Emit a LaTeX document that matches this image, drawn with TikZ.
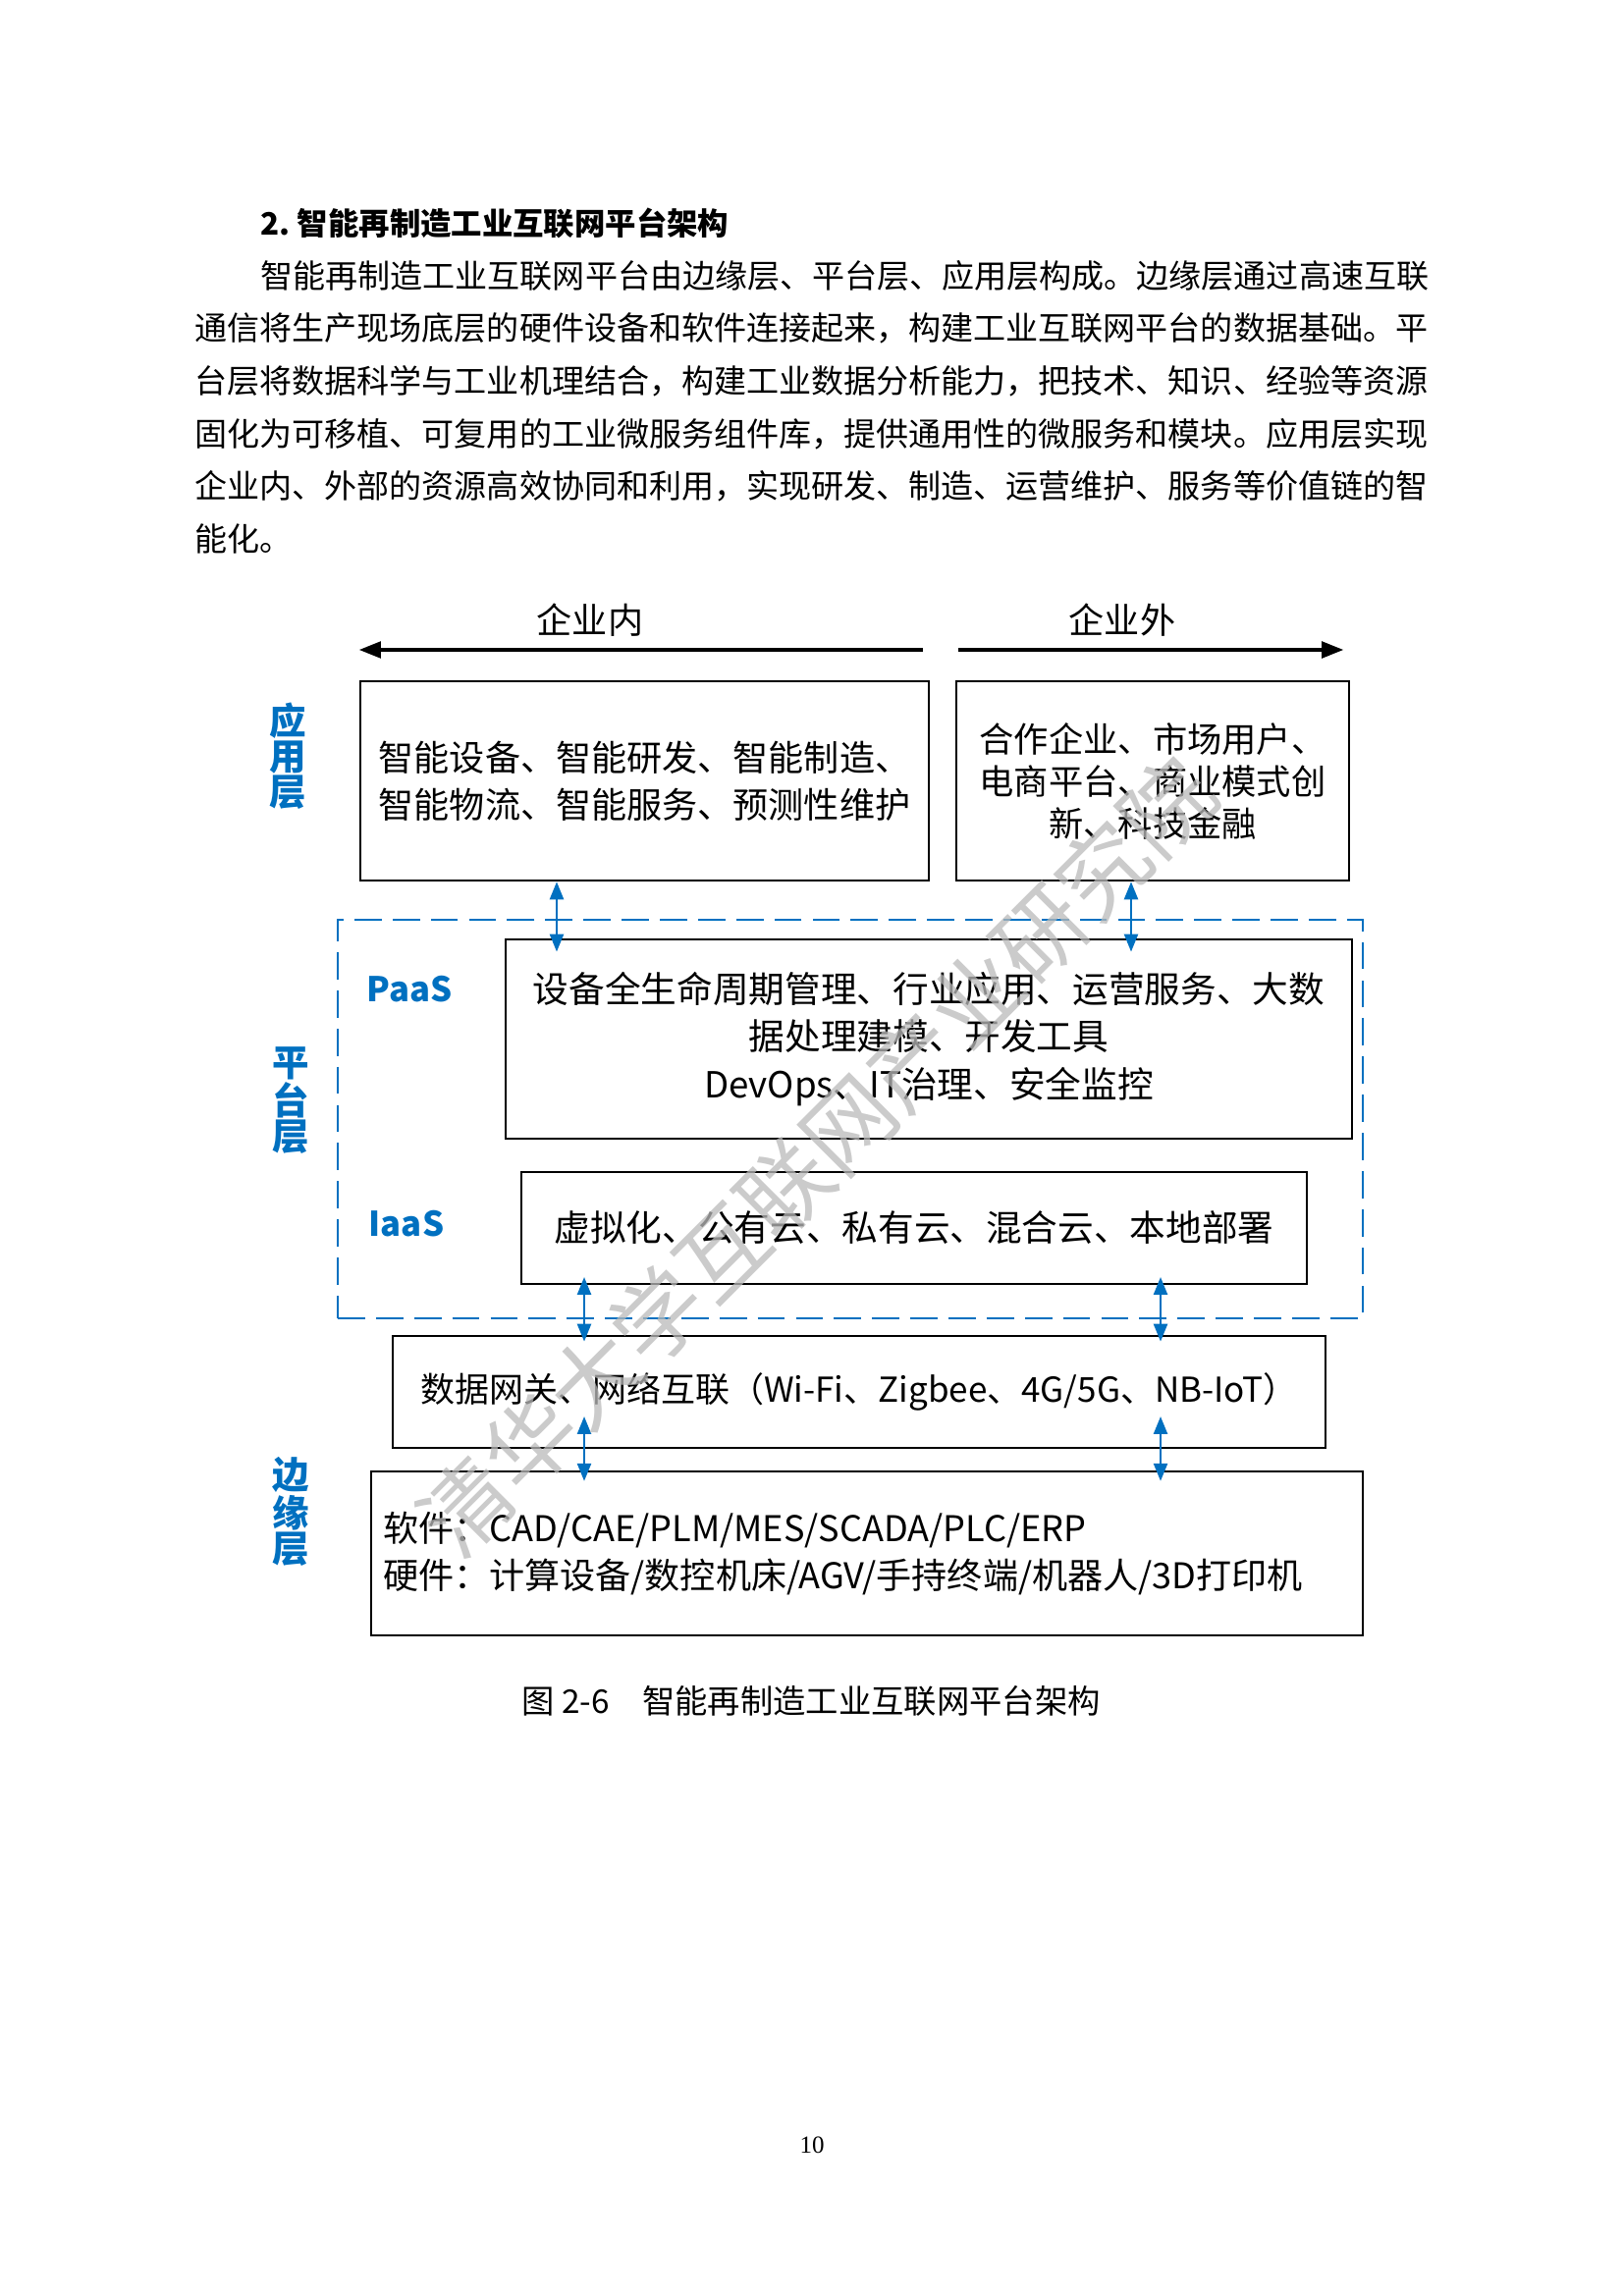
\documentclass[tikz,border=0pt]{standalone}
\usepackage{fontspec}
\usepackage{tikz}
\usetikzlibrary{arrows.meta}
\setmainfont{Liberation Serif}
\newfontfamily\cjk{Noto Sans CJK SC}
\definecolor{layerblue}{RGB}{0,112,192}
\newcommand{\pxu}{0.3601pt}

\begin{document}
\begin{tikzpicture}[
  x=\pxu, y=-\pxu,
  para/.style={anchor=west, inner sep=0pt, font=\cjk\fontsize{11.9}{14}\selectfont},
  box/.style={draw, line width=0.9pt, inner sep=0pt, align=center, font=\cjk\fontsize{13}{17.3}\selectfont},
  layer/.style={text=layerblue, align=center, inner sep=0pt, font=\cjk\bfseries\fontsize{13.5}{13}\selectfont},
  svc/.style={text=layerblue, inner sep=0pt, font=\cjk\bfseries\fontsize{12.5}{14}\selectfont},
  side/.style={inner sep=0pt, font=\cjk\fontsize{13}{15}\selectfont},
  dir/.style={-{Triangle[length=8pt,width=6pt]}, line width=1.2pt},
  link/.style={{Triangle[length=6.5pt,width=5pt]}-{Triangle[length=6.5pt,width=5pt]}, color=layerblue, line width=1pt}
]
\useasboundingbox (0,0) rectangle (1653,2339);

% text above the figure
\node[para, font=\cjk\bfseries\fontsize{11.3}{14}\selectfont] (head) at (265,227) {2.\ 智能再制造工业互联网平台架构};
\node[para] (p1) at (265,281) {智能再制造工业互联网平台由边缘层、平台层、应用层构成。边缘层通过高速互联};
\node[para] (p2) at (198,334.6) {通信将生产现场底层的硬件设备和软件连接起来，构建工业互联网平台的数据基础。平};
\node[para] (p3) at (198,388.2) {台层将数据科学与工业机理结合，构建工业数据分析能力，把技术、知识、经验等资源};
\node[para] (p4) at (198,441.8) {固化为可移植、可复用的工业微服务组件库，提供通用性的微服务和模块。应用层实现};
\node[para] (p5) at (198,495.4) {企业内、外部的资源高效协同和利用，实现研发、制造、运营维护、服务等价值链的智};
\node[para] (p6) at (198,549) {能化。};

% application layer
\node[side] (inner) at (601,632) {企业内};
\node[side] (outer) at (1143,632) {企业外};
\node[box, minimum width={579*\pxu}, minimum height={203*\pxu}] (appin) at (656.5,795.5)
  {智能设备、智能研发、智能制造、\\智能物流、智能服务、预测性维护};
\node[box, minimum width={400*\pxu}, minimum height={203*\pxu}, font=\cjk\fontsize{12.7}{15.5}\selectfont] (appout) at (1174,795.5)
  {合作企业、市场用户、\\电商平台、商业模式创\\新、科技金融};
\coordinate (inS) at (940,662);
\coordinate (outS) at (976,662);
\draw[dir] (inS) -- (inS -| appin.west);
\draw[dir, shorten >=2.5pt] (outS) -- (outS -| appout.east);
\node[layer] (lapp) at (293,770) {应\\用\\层};

% platform layer
\node[draw=layerblue, line width=1pt, dash pattern=on 10pt off 4pt, minimum width={1044*\pxu}, minimum height={406*\pxu}] (plat) at (866,1140) {};
\node[box, minimum width={862*\pxu}, minimum height={203*\pxu}, font=\cjk\fontsize{13.2}{17.6}\selectfont] (paas) at (946,1058.5)
  {设备全生命周期管理、行业应用、运营服务、大数\\据处理建模、开发工具\\DevOps、IT治理、安全监控};
\node[box, minimum width={800*\pxu}, minimum height={114*\pxu}, font=\cjk\fontsize{13.2}{17.6}\selectfont] (iaas) at (931,1251)
  {虚拟化、公有云、私有云、混合云、本地部署};
\node[svc] (lpaas) at (417,1008) {PaaS};
\node[svc] (liaas) at (414,1247) {IaaS};
\node[layer] (lplat) at (296,1121) {平\\台\\层};

% edge layer
\node[box, minimum width={950*\pxu}, minimum height={114*\pxu}, font=\cjk\fontsize{12.6}{15}\selectfont] (gate) at (875,1418)
  {数据网关、网络互联（Wi-Fi、Zigbee、4G/5G、NB-IoT）};
\node[box, text width={986*\pxu}, inner xsep={12*\pxu}, minimum height={167*\pxu}, align=left, font=\cjk\fontsize{13}{17.6}\selectfont] (edge) at (883,1582.5)
  {软件：CAD/CAE/PLM/MES/SCADA/PLC/ERP\\硬件：计算设备/数控机床/AGV/手持终端/机器人/3D打印机};
\node[layer] (ledge) at (296,1540) {边\\缘\\层};

% links between layers
\coordinate (ca) at (567,0);
\coordinate (cb) at (1152,0);
\coordinate (cc) at (595,0);
\coordinate (cd) at (1182,0);
\draw[link, shorten >=-5pt] (appin.south -| ca) -- (paas.north -| ca);
\draw[link, shorten >=-5pt] (appout.south -| cb) -- (paas.north -| cb);
\draw[link, shorten <=-3pt, shorten >=-2.5pt] (iaas.south -| cc) -- (gate.north -| cc);
\draw[link, shorten <=-3pt, shorten >=-2.5pt] (iaas.south -| cd) -- (gate.north -| cd);
\draw[link, shorten <=-12pt, shorten >=-4pt] (gate.south -| cc) -- (edge.north -| cc);
\draw[link, shorten <=-12pt, shorten >=-4pt] (gate.south -| cd) -- (edge.north -| cd);

% caption and page number
\node[para, font=\cjk\fontsize{12}{14}\selectfont] (cap) at (531,1733) {图 2-6　智能再制造工业互联网平台架构};
\node[inner sep=0pt, font=\fontsize{9}{11}\selectfont] (page) at (827,2185) {10};

% watermark
\node[rotate=45, text=gray!55, opacity=0.75, inner sep=0pt, font=\cjk\fontsize{33}{33}\selectfont] (mark) at (832,1178) {清华大学互联网产业研究院};
\end{tikzpicture}
\end{document}
